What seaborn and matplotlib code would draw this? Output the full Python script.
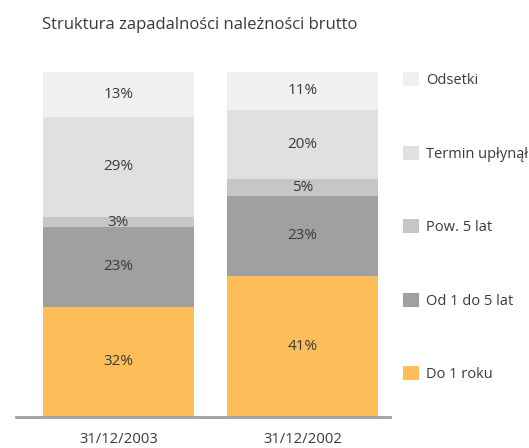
import pandas as pd
import matplotlib.pyplot as plt
import seaborn as sns
from matplotlib.patches import Patch

# dane
dates = ["31/12/2003", "31/12/2002"]
do_1_roku = [32, 41]
od_1_do_5 = [23, 23]
pow_5_lat = [3, 5]
termin_uplynal = [29, 20]
odsetki = [13, 11]

series_names = ["Do 1 roku", "Od 1 do 5 lat", "Pow. 5 lat", "Termin upłynął", "Odsetki"]
series_vals = [do_1_roku, od_1_do_5, pow_5_lat, termin_uplynal, odsetki]
colors = ["#FDBE59", "#A0A0A3", "#C6C6C8", "#E0E0E2", "#F0F0F0"]

sns.set_style("white")
plt.rcParams["font.family"] = ["Open Sans", "DejaVu Sans"]
text_color = "#3a3a3a"

fig = plt.figure(figsize=(5.29, 4.48), dpi=100)
ax = fig.add_axes([16 / 529, 31 / 448, 374 / 529, 345 / 448])

df = pd.DataFrame({name: vals for name, vals in zip(series_names, series_vals)}, index=dates)
cum = df.cumsum(axis=1)

# rysujemy od najwyższej sumy, żeby niższe słupki przykryły wyższe
for name, col in reversed(list(zip(series_names, colors))):
    d = pd.DataFrame({"date": dates, "val": cum[name].values})
    sns.barplot(data=d, x="date", y="val", color=col, width=0.82,
                saturation=1, ax=ax, edgecolor="none", linewidth=0)

# etykiety procentowe na środku segmentów
for i, date in enumerate(dates):
    bottom = 0
    for name in series_names:
        v = df.loc[date, name]
        ax.text(i, bottom + v / 2, f"{v}%", ha="center", va="center",
                fontsize=11, color=text_color)
        bottom += v

ax.set_xlim(-0.557, 1.476)
ax.set_ylim(0, 100)
ax.set_xlabel("")
ax.set_ylabel("")
ax.set_yticks([])
for s in ["top", "right", "left"]:
    ax.spines[s].set_visible(False)
ax.spines["bottom"].set_color("#A0A0A0")
ax.spines["bottom"].set_linewidth(2)
ax.tick_params(axis="x", length=0, pad=11, labelsize=10.7, labelcolor=text_color)

fig.text(42 / 529, 1 - 25 / 448, "Struktura zapadalności należności brutto",
         fontsize=12, color=text_color, va="center", ha="left")

handles = [Patch(facecolor=c, edgecolor="none") for c in reversed(colors)]
labels = list(reversed(series_names))
fig.legend(handles, labels, loc="upper left", bbox_to_anchor=(390 / 529, 1 - 59 / 448),
           frameon=False, fontsize=10.5, labelspacing=3.95, handlelength=1.1,
           handleheight=1.1, handletextpad=0.5, labelcolor=text_color)

fig.savefig("out.png", dpi=100)
